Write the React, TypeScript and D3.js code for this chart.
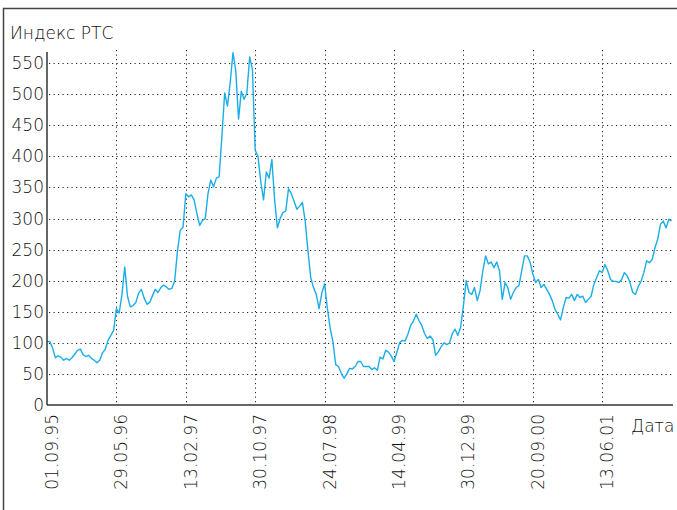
import { useEffect, useRef } from 'react';
import * as d3 from 'd3';

const rtsValues: number[] = [
  102, 102, 92, 76, 79, 77, 72, 75, 72, 76,
  82, 88, 90, 81, 78, 80, 75, 72, 68, 72,
  84, 90, 104, 112, 120, 155, 148, 178, 222, 175,
  158, 160, 165, 180, 186, 172, 162, 165, 176, 186,
  181, 189, 193, 190, 186, 188, 200, 248, 281, 286,
  340, 335, 338, 330, 308, 289, 297, 300, 340, 362,
  351, 365, 367, 432, 502, 481, 519, 567, 538, 460,
  505, 492, 502, 560, 540, 410, 400, 360, 330, 375,
  365, 395, 330, 285, 300, 310, 312, 348, 340, 328,
  315, 320, 326, 296, 248, 205, 189, 178, 155, 180,
  195, 155, 124, 102, 65, 62, 51, 43, 50, 59,
  58, 62, 70, 70, 62, 62, 62, 57, 60, 56,
  77, 74, 88, 85, 79, 70, 84, 100, 104, 103,
  114, 128, 135, 146, 136, 128, 115, 107, 111, 105,
  80, 86, 94, 100, 97, 100, 115, 122, 112, 125,
  160, 200, 181, 178, 189, 168, 184, 216, 240, 227,
  230, 221, 230, 216, 170, 197, 189, 170, 181, 189,
  192, 216, 240, 240, 230, 211, 197, 202, 189, 194,
  186, 178, 168, 154, 146, 137, 157, 173, 172, 178,
  168, 178, 173, 175, 165, 170, 175, 194, 205, 216,
  213, 226, 216, 202, 199, 199, 197, 202, 213, 208,
  197, 181, 178, 191, 199, 213, 232, 229, 234, 253,
  267, 291, 296, 285, 299, 296,
];

const dateLabels = ['01.09.95', '29.05.96', '13.02.97', '30.10.97', '24.07.98', '14.04.99', '30.12.99', '20.09.00', '13.06.01'];
const labelStep = 25; // samples between date labels
const yTicks = [0, 50, 100, 150, 200, 250, 300, 350, 400, 450, 500, 550];

const W = 677;
const H = 510;
const FONT = '"DejaVu Sans", sans-serif';

export default function App() {
  const svgRef = useRef<SVGSVGElement>(null);

  useEffect(() => {
    if (!svgRef.current) return;
    const svg = d3.select(svgRef.current);
    svg.selectAll('*').remove();

    const left = 47, right = 673, top = 52, bottom = 405;
    const x = d3.scaleLinear([0, 225.5], [left, right]);
    const y = d3.scaleLinear([0, 568], [bottom, top]);

    // frame
    svg.append('path').attr('d', `M3.5,${H} V8.5 H${W}`)
      .attr('fill', 'none').attr('stroke', '#444').attr('stroke-width', 1.5);

    // horizontal grid
    svg.selectAll('.gy').data(yTicks.filter(d => d > 0)).join('line')
      .attr('x1', left + 2).attr('x2', right - 1)
      .attr('y1', d => Math.round(y(d)) + 0.5).attr('y2', d => Math.round(y(d)) + 0.5)
      .attr('stroke', '#222').attr('stroke-width', 1).attr('stroke-dasharray', '1.2,3.3');

    // vertical grid
    const labelIdx = dateLabels.map((_, i) => i * labelStep);
    svg.selectAll('.gx').data(labelIdx.slice(1)).join('line')
      .attr('x1', d => Math.round(x(d)) + 0.5).attr('x2', d => Math.round(x(d)) + 0.5)
      .attr('y1', top - 2).attr('y2', bottom)
      .attr('stroke', '#222').attr('stroke-width', 1).attr('stroke-dasharray', '1.2,3.3');

    // series
    const line = d3.line<number>().x((_, i) => x(i)).y(d => y(d));
    svg.append('path').datum(rtsValues).attr('d', line)
      .attr('fill', 'none').attr('stroke', '#1aaee8').attr('stroke-width', 1.4).attr('stroke-linejoin', 'round');

    // axes
    svg.append('line').attr('x1', left).attr('x2', left).attr('y1', top).attr('y2', bottom)
      .attr('stroke', '#333').attr('stroke-width', 1.5);
    svg.append('line').attr('x1', left).attr('x2', right).attr('y1', bottom).attr('y2', bottom)
      .attr('stroke', '#333').attr('stroke-width', 1.5);

    // y tick labels
    svg.selectAll('.ty').data(yTicks).join('text')
      .attr('x', left - 3).attr('y', d => y(d)).attr('dy', '0.35em')
      .attr('text-anchor', 'end').attr('font-family', FONT).attr('font-size', 17).attr('font-weight', 200)
      .attr('fill', '#111').text(d => d);

    // x tick labels (rotated)
    svg.selectAll('.tx').data(dateLabels).join('text')
      .attr('transform', (_, i) => `translate(${x(labelIdx[i]) + 11},${bottom + 9}) rotate(-90)`)
      .attr('text-anchor', 'end').attr('font-family', FONT).attr('font-size', 17).attr('font-weight', 200)
      .attr('fill', '#111').text(d => d);

    // titles
    svg.append('text').attr('x', 10).attr('y', 39)
      .attr('font-family', FONT).attr('font-size', 17).attr('font-weight', 200).attr('fill', '#111')
      .text('Индекс РТС');
    svg.append('text').attr('x', 631).attr('y', 432)
      .attr('font-family', FONT).attr('font-size', 17).attr('font-weight', 200).attr('fill', '#111')
      .text('Дата');
  }, []);

  return (
    <svg ref={svgRef} width={W} height={H}
      style={{ position: 'absolute', left: 0, top: 0, background: '#fff' }} />
  );
}
